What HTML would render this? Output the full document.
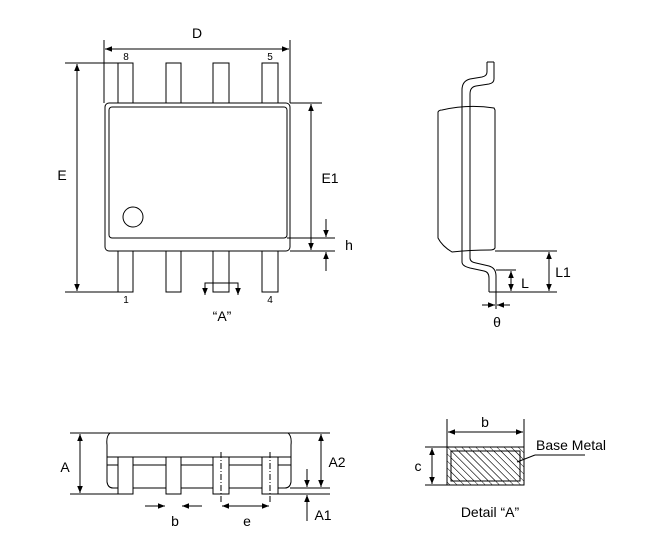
<!DOCTYPE html>
<html><head><meta charset="utf-8"><style>
html,body{margin:0;padding:0;background:#fff;}
svg{display:block;}
text{font-family:"Liberation Sans",Arial,sans-serif;fill:#000;}
</style></head><body>
<svg width="659" height="540" viewBox="0 0 659 540" xmlns="http://www.w3.org/2000/svg">
<defs>
<marker id="ar" viewBox="0 0 10 10" refX="10" refY="5" markerWidth="7" markerHeight="7" orient="auto-start-reverse" markerUnits="userSpaceOnUse"><path d="M0,1 L10,5 L0,9 z" fill="#000"/></marker>
<pattern id="hat" width="5" height="5" patternUnits="userSpaceOnUse" patternTransform="rotate(-45)"><line x1="0" y1="0" x2="0" y2="5" stroke="#000" stroke-width="0.9"/></pattern>
</defs>
<g fill="none" stroke="#000" stroke-width="1">
<line x1="104" y1="40" x2="104" y2="103"/>
<line x1="290" y1="40" x2="290" y2="103"/>
<line x1="105" y1="49" x2="289" y2="49" marker-start="url(#ar)" marker-end="url(#ar)"/>
<rect x="118" y="63" width="15" height="40"/>
<rect x="166" y="63" width="15" height="40"/>
<rect x="213" y="63" width="16" height="40"/>
<rect x="262" y="63" width="16" height="40"/>
<rect x="118" y="251" width="15" height="41"/>
<rect x="166" y="251" width="15" height="41"/>
<rect x="213" y="251" width="16" height="41"/>
<rect x="262" y="251" width="16" height="41"/>
<rect x="105" y="103" width="185" height="148" rx="4" fill="#fff"/>
<rect x="109" y="107" width="178" height="131" rx="3"/>
<circle cx="133" cy="217" r="10"/>
<line x1="65" y1="63" x2="118" y2="63"/>
<line x1="65" y1="292" x2="118" y2="292"/>
<line x1="77" y1="64" x2="77" y2="291" marker-start="url(#ar)" marker-end="url(#ar)"/>
<line x1="290" y1="103" x2="322" y2="103"/>
<line x1="287" y1="238" x2="335" y2="238"/>
<line x1="290" y1="251" x2="335" y2="251"/>
<line x1="311" y1="104" x2="311" y2="250" marker-start="url(#ar)" marker-end="url(#ar)"/>
<line x1="326" y1="219" x2="326" y2="237" marker-end="url(#ar)"/>
<line x1="326" y1="271" x2="326" y2="252" marker-end="url(#ar)"/>
<polyline points="205,294 205,283 238,283 238,294"/>
<line x1="205" y1="285" x2="205" y2="295" marker-end="url(#ar)"/>
<line x1="238" y1="285" x2="238" y2="295" marker-end="url(#ar)"/>
<path d="M442,110 Q468,104 494,108 L495,110 L495,248 Q494,250 490,250 Q470,250 452,252 Q442,246 438,238 L438,112 Q439,110 442,110 Z"/>
<path d="M487,62 L487,72 Q487,76 482,77 L470,79 Q462,81 462,90 L462,262 Q462,266 470,268 L484,271 Q489,272 489,278 L489,292"/>
<path d="M494,62 L494,79 Q494,83 489,84 L476,86 Q470,87 470,94 L470,258 Q470,262 476,263 L489,266 Q496,268 496,276 L496,292"/>
<line x1="487" y1="62" x2="494" y2="62"/>
<line x1="489" y1="292" x2="557" y2="292"/>
<line x1="495" y1="251" x2="557" y2="251"/>
<line x1="496" y1="270" x2="516" y2="270"/>
<line x1="511" y1="271" x2="511" y2="291" marker-start="url(#ar)" marker-end="url(#ar)"/>
<line x1="549" y1="252" x2="549" y2="291" marker-start="url(#ar)" marker-end="url(#ar)"/>
<line x1="496" y1="292" x2="496" y2="309"/>
<line x1="482" y1="305" x2="495" y2="305" marker-end="url(#ar)"/>
<line x1="510" y1="305" x2="497" y2="305" marker-end="url(#ar)"/>
<line x1="70" y1="433" x2="110" y2="433"/>
<line x1="288" y1="433" x2="330" y2="433"/>
<path d="M110,433 L288,433 Q292,436 291,445 L291,482 Q290,488 285,488 L113,488 Q108,488 107,482 L107,445 Q106,436 110,433 Z"/>
<line x1="107" y1="457" x2="291" y2="457"/>
<line x1="107" y1="465" x2="291" y2="465"/>
<rect x="118" y="457" width="15" height="37" fill="#fff"/>
<rect x="166" y="457" width="15" height="37" fill="#fff"/>
<rect x="213" y="457" width="16" height="37" fill="#fff"/>
<rect x="262" y="457" width="16" height="37" fill="#fff"/>
<line x1="221" y1="452" x2="221" y2="504" stroke-dasharray="6,2,1,2"/>
<line x1="270" y1="452" x2="270" y2="504" stroke-dasharray="6,2,1,2"/>
<line x1="70" y1="494" x2="118" y2="494"/>
<line x1="278" y1="494" x2="330" y2="494"/>
<line x1="290" y1="488" x2="330" y2="488"/>
<line x1="80" y1="434" x2="80" y2="493" marker-start="url(#ar)" marker-end="url(#ar)"/>
<line x1="321" y1="434" x2="321" y2="487" marker-start="url(#ar)" marker-end="url(#ar)"/>
<line x1="307" y1="469" x2="307" y2="487" marker-end="url(#ar)"/>
<line x1="307" y1="521" x2="307" y2="495" marker-end="url(#ar)"/>
<line x1="145" y1="506" x2="165" y2="506" marker-end="url(#ar)"/>
<line x1="202" y1="506" x2="182" y2="506" marker-end="url(#ar)"/>
<line x1="222" y1="506" x2="269" y2="506" marker-start="url(#ar)" marker-end="url(#ar)"/>
<line x1="447" y1="419" x2="447" y2="447"/>
<line x1="524" y1="419" x2="524" y2="447"/>
<line x1="448" y1="432" x2="523" y2="432" marker-start="url(#ar)" marker-end="url(#ar)"/>
<line x1="425" y1="447" x2="447" y2="447"/>
<line x1="425" y1="485" x2="447" y2="485"/>
<line x1="432" y1="448" x2="432" y2="484" marker-start="url(#ar)" marker-end="url(#ar)"/>
<rect x="447" y="447" width="77" height="38" fill="url(#hat)"/>
<rect x="451" y="451" width="69" height="30" fill="url(#hat)"/>
<line x1="517" y1="462" x2="535" y2="455"/>
<line x1="535" y1="455" x2="585" y2="455"/>
</g>
<g font-size="14">
<text x="197" y="38" text-anchor="middle">D</text>
<text x="62" y="180" text-anchor="middle">E</text>
<text x="330" y="183" text-anchor="middle">E1</text>
<text x="349" y="250" text-anchor="middle">h</text>
<text x="222" y="321" text-anchor="middle">“A”</text>
<text x="525" y="288" text-anchor="middle">L</text>
<text x="563" y="277" text-anchor="middle">L1</text>
<text x="497" y="327" text-anchor="middle">θ</text>
<text x="65" y="472" text-anchor="middle">A</text>
<text x="337" y="467" text-anchor="middle">A2</text>
<text x="323" y="520" text-anchor="middle">A1</text>
<text x="175" y="526" text-anchor="middle">b</text>
<text x="247" y="526" text-anchor="middle">e</text>
<text x="485" y="427" text-anchor="middle">b</text>
<text x="418" y="471" text-anchor="middle">c</text>
<text x="536" y="450">Base Metal</text>
<text x="490" y="517" text-anchor="middle">Detail “A”</text>
</g>
<g font-size="10">
<text x="126" y="60" text-anchor="middle">8</text>
<text x="270" y="60" text-anchor="middle">5</text>
<text x="126" y="303" text-anchor="middle">1</text>
<text x="270" y="303" text-anchor="middle">4</text>
</g>
</svg>
</body></html>
